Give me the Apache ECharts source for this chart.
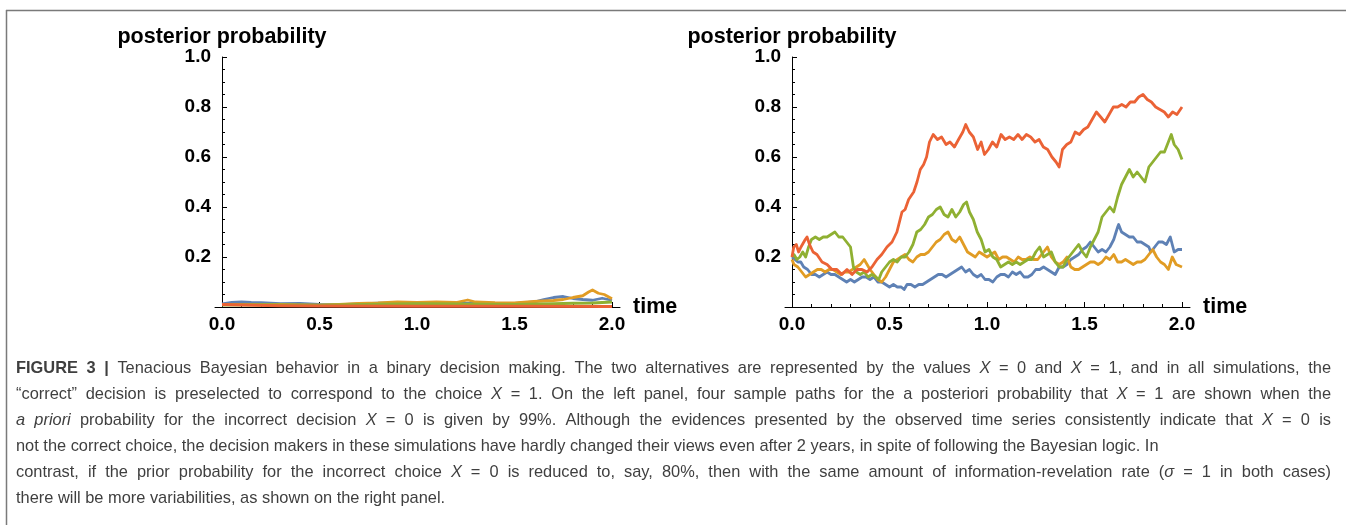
<!DOCTYPE html>
<html><head><meta charset="utf-8">
<script src="https://cdn.jsdelivr.net/npm/echarts@6/dist/echarts.min.js"></script>
<style>html,body{margin:0;padding:0;background:#fff}#c{width:1346px;height:525px}</style>
</head><body><div id="c"></div>
<script>
// ---------------- data ----------------
const xTickValues = [0, 0.5, 1, 1.5, 2];
const xTickLabels = ['0.0', '0.5', '1.0', '1.5', '2.0'];
const xMinorValues = [0.1,0.2,0.3,0.4,0.6,0.7,0.8,0.9,1.1,1.2,1.3,1.4,1.6,1.7,1.8,1.9];
const yTickLabels = ['', '0.2', '0.4', '0.6', '0.8', '1.0'];
const axisTitleY = 'posterior probability';
const axisTitleX = 'time';
const pathNames = ['path 1', 'path 2', 'path 3', 'path 4'];

// left panel (prior for X=0 is 99%)
const leftBlue = [[0,0.012],[0.05,0.018],[0.1,0.02],[0.15,0.018],[0.2,0.017],[0.3,0.013],[0.4,0.014],[0.5,0.01],[0.6,0.009],[0.7,0.012],[0.8,0.015],[0.9,0.016],[1.0,0.015],[1.1,0.017],[1.2,0.016],[1.3,0.014],[1.4,0.013],[1.5,0.014],[1.6,0.02],[1.65,0.03],[1.7,0.038],[1.75,0.042],[1.8,0.034],[1.85,0.03],[1.9,0.027],[1.95,0.035],[2.0,0.027]];
const leftOrange = [[0,0.01],[0.1,0.01],[0.2,0.009],[0.3,0.01],[0.4,0.008],[0.5,0.007],[0.6,0.01],[0.7,0.014],[0.8,0.016],[0.9,0.02],[1.0,0.018],[1.1,0.02],[1.2,0.018],[1.26,0.028],[1.3,0.02],[1.4,0.017],[1.5,0.016],[1.6,0.022],[1.7,0.026],[1.75,0.03],[1.8,0.038],[1.85,0.045],[1.88,0.06],[1.9,0.068],[1.93,0.055],[1.96,0.05],[2.0,0.033]];
const leftGreen = [[0,0.008],[0.2,0.009],[0.5,0.007],[0.8,0.011],[1.0,0.013],[1.2,0.012],[1.5,0.01],[1.7,0.013],[1.8,0.015],[1.9,0.016],[2.0,0.02]];
const leftRed = [[0,0.01],[0.1,0.008],[0.3,0.005],[0.5,0.004],[1.0,0.003],[1.5,0.003],[2.0,0.002]];

// right panel (prior for X=0 is 80%)
const rightBlue = [[0,0.2],[0.015,0.19],[0.03,0.18],[0.045,0.18],[0.06,0.16],[0.08,0.15],[0.1,0.13],[0.12,0.13],[0.14,0.12],[0.16,0.13],[0.18,0.14],[0.2,0.13],[0.22,0.13],[0.24,0.12],[0.26,0.11],[0.28,0.1],[0.3,0.11],[0.32,0.1],[0.34,0.11],[0.36,0.12],[0.38,0.12],[0.4,0.11],[0.42,0.12],[0.44,0.1],[0.46,0.1],[0.48,0.09],[0.5,0.08],[0.52,0.09],[0.54,0.08],[0.56,0.08],[0.575,0.07],[0.59,0.09],[0.61,0.09],[0.63,0.08],[0.65,0.09],[0.67,0.09],[0.69,0.1],[0.71,0.11],[0.73,0.12],[0.75,0.13],[0.77,0.13],[0.79,0.12],[0.81,0.13],[0.83,0.14],[0.85,0.15],[0.87,0.16],[0.89,0.14],[0.91,0.15],[0.93,0.13],[0.95,0.12],[0.97,0.13],[0.99,0.11],[1.01,0.11],[1.03,0.1],[1.05,0.12],[1.07,0.13],[1.09,0.13],[1.11,0.12],[1.13,0.14],[1.15,0.13],[1.17,0.14],[1.19,0.12],[1.21,0.12],[1.23,0.13],[1.25,0.15],[1.27,0.15],[1.29,0.16],[1.31,0.15],[1.33,0.14],[1.35,0.13],[1.37,0.16],[1.39,0.16],[1.41,0.17],[1.43,0.19],[1.45,0.2],[1.47,0.21],[1.49,0.23],[1.51,0.24],[1.53,0.26],[1.55,0.24],[1.57,0.22],[1.59,0.23],[1.61,0.22],[1.63,0.24],[1.65,0.27],[1.67,0.32],[1.675,0.33],[1.69,0.3],[1.71,0.29],[1.73,0.28],[1.75,0.28],[1.77,0.26],[1.79,0.26],[1.81,0.25],[1.83,0.24],[1.84,0.22],[1.86,0.24],[1.88,0.26],[1.9,0.26],[1.92,0.25],[1.94,0.28],[1.96,0.22],[1.98,0.23],[2.0,0.23]];
const rightOrange = [[0,0.19],[0.01,0.17],[0.03,0.16],[0.05,0.14],[0.07,0.12],[0.09,0.13],[0.11,0.14],[0.13,0.15],[0.15,0.15],[0.17,0.14],[0.19,0.15],[0.21,0.15],[0.23,0.14],[0.25,0.13],[0.27,0.14],[0.29,0.14],[0.31,0.15],[0.33,0.16],[0.35,0.17],[0.37,0.19],[0.385,0.17],[0.4,0.15],[0.42,0.13],[0.44,0.11],[0.46,0.1],[0.48,0.12],[0.5,0.15],[0.52,0.18],[0.54,0.19],[0.56,0.2],[0.58,0.21],[0.6,0.19],[0.62,0.18],[0.64,0.2],[0.66,0.21],[0.68,0.21],[0.7,0.22],[0.72,0.24],[0.74,0.26],[0.76,0.27],[0.78,0.29],[0.8,0.3],[0.82,0.27],[0.84,0.26],[0.86,0.28],[0.88,0.25],[0.9,0.22],[0.92,0.21],[0.94,0.2],[0.96,0.22],[0.98,0.21],[1.0,0.2],[1.02,0.21],[1.04,0.22],[1.06,0.19],[1.08,0.2],[1.1,0.2],[1.12,0.19],[1.14,0.18],[1.16,0.2],[1.18,0.19],[1.2,0.19],[1.22,0.2],[1.24,0.19],[1.26,0.19],[1.28,0.21],[1.3,0.23],[1.31,0.24],[1.33,0.2],[1.35,0.18],[1.37,0.17],[1.39,0.18],[1.41,0.2],[1.43,0.16],[1.45,0.15],[1.47,0.15],[1.49,0.16],[1.51,0.17],[1.53,0.18],[1.55,0.18],[1.57,0.17],[1.59,0.18],[1.61,0.2],[1.63,0.19],[1.65,0.21],[1.67,0.18],[1.69,0.18],[1.71,0.19],[1.73,0.18],[1.75,0.17],[1.77,0.18],[1.79,0.18],[1.81,0.19],[1.83,0.21],[1.85,0.23],[1.87,0.2],[1.89,0.18],[1.91,0.17],[1.93,0.15],[1.95,0.2],[1.97,0.17],[2.0,0.16]];
const rightGreen = [[0,0.2],[0.01,0.21],[0.025,0.19],[0.04,0.2],[0.055,0.22],[0.07,0.2],[0.085,0.24],[0.1,0.27],[0.12,0.28],[0.14,0.27],[0.16,0.28],[0.18,0.28],[0.2,0.29],[0.22,0.3],[0.24,0.28],[0.26,0.28],[0.28,0.26],[0.3,0.24],[0.315,0.16],[0.33,0.14],[0.35,0.13],[0.37,0.14],[0.39,0.12],[0.41,0.13],[0.43,0.12],[0.445,0.11],[0.46,0.14],[0.48,0.16],[0.5,0.18],[0.52,0.19],[0.54,0.18],[0.56,0.2],[0.58,0.2],[0.6,0.22],[0.62,0.25],[0.64,0.3],[0.66,0.31],[0.68,0.33],[0.7,0.36],[0.72,0.37],[0.74,0.39],[0.76,0.4],[0.78,0.37],[0.8,0.36],[0.82,0.39],[0.84,0.36],[0.86,0.38],[0.88,0.41],[0.895,0.42],[0.91,0.38],[0.93,0.35],[0.95,0.3],[0.97,0.27],[0.99,0.22],[1.01,0.23],[1.03,0.2],[1.05,0.19],[1.07,0.16],[1.09,0.17],[1.11,0.18],[1.13,0.17],[1.15,0.18],[1.17,0.17],[1.19,0.18],[1.21,0.19],[1.23,0.19],[1.25,0.22],[1.27,0.24],[1.29,0.2],[1.31,0.21],[1.33,0.22],[1.35,0.18],[1.37,0.16],[1.39,0.16],[1.41,0.19],[1.43,0.21],[1.45,0.23],[1.47,0.25],[1.49,0.22],[1.51,0.2],[1.53,0.24],[1.55,0.27],[1.57,0.3],[1.59,0.36],[1.61,0.38],[1.63,0.4],[1.65,0.38],[1.67,0.44],[1.69,0.49],[1.71,0.52],[1.73,0.55],[1.75,0.52],[1.77,0.54],[1.79,0.52],[1.81,0.5],[1.83,0.56],[1.85,0.58],[1.87,0.6],[1.89,0.62],[1.91,0.62],[1.93,0.66],[1.945,0.69],[1.96,0.65],[1.98,0.63],[2.0,0.59]];
const rightRed = [[0,0.2],[0.009,0.24],[0.022,0.25],[0.034,0.22],[0.046,0.24],[0.068,0.27],[0.077,0.28],[0.09,0.25],[0.108,0.22],[0.128,0.21],[0.154,0.18],[0.18,0.17],[0.205,0.15],[0.23,0.15],[0.256,0.13],[0.282,0.15],[0.308,0.13],[0.333,0.15],[0.359,0.15],[0.385,0.14],[0.41,0.16],[0.436,0.19],[0.46,0.21],[0.487,0.24],[0.513,0.26],[0.538,0.3],[0.564,0.38],[0.58,0.39],[0.598,0.43],[0.624,0.46],[0.641,0.5],[0.658,0.55],[0.675,0.57],[0.69,0.6],[0.705,0.66],[0.724,0.69],[0.746,0.67],[0.767,0.68],[0.79,0.65],[0.81,0.66],[0.833,0.64],[0.854,0.67],[0.876,0.7],[0.891,0.73],[0.909,0.7],[0.93,0.68],[0.952,0.63],[0.97,0.66],[0.987,0.61],[1.007,0.63],[1.028,0.66],[1.05,0.64],[1.072,0.69],[1.093,0.67],[1.115,0.68],[1.137,0.67],[1.159,0.69],[1.18,0.67],[1.202,0.69],[1.224,0.68],[1.246,0.66],[1.267,0.67],[1.289,0.64],[1.311,0.63],[1.333,0.6],[1.354,0.58],[1.37,0.56],[1.387,0.63],[1.409,0.65],[1.43,0.66],[1.452,0.7],[1.474,0.69],[1.496,0.71],[1.517,0.72],[1.539,0.75],[1.561,0.78],[1.583,0.76],[1.604,0.74],[1.626,0.77],[1.648,0.8],[1.67,0.8],[1.691,0.81],[1.713,0.8],[1.735,0.82],[1.757,0.82],[1.778,0.84],[1.8,0.85],[1.822,0.83],[1.843,0.82],[1.865,0.8],[1.887,0.79],[1.909,0.78],[1.93,0.76],[1.952,0.78],[1.974,0.77],[2.0,0.8]];

// caption (** = bold, _ = italic)
const captionLines = [
  '**FIGURE 3 |** Tenacious Bayesian behavior in a binary decision making. The two alternatives are represented by the values _X_ = 0 and _X_ = 1, and in all simulations, the',
  '\u201ccorrect\u201d decision is preselected to correspond to the choice _X_ = 1. On the left panel, four sample paths for the a posteriori probability that _X_ = 1 are shown when the',
  '_a priori_ probability for the incorrect decision _X_ = 0 is given by 99%. Although the evidences presented by the observed time series consistently indicate that _X_ = 0 is',
  'not the correct choice, the decision makers in these simulations have hardly changed their views even after 2 years, in spite of following the Bayesian logic. In',
  'contrast, if the prior probability for the incorrect choice _X_ = 0 is reduced to, say, 80%, then with the same amount of information-revelation rate (_\u03c3_ = 1 in both cases)',
  'there will be more variabilities, as shown on the right panel.'
];
const captionJustified = [true, true, true, false, true, false];

// ---------------- styling / layout ----------------
const colors = ['#5E81B5', '#E19C24', '#8FB032', '#EB6235'];
const AX_FONT = 'Liberation Sans';
const X_MIN = -7 / 195, X_MAX = 2 + 8 / 195;
const CAP = { family: 'Liberation Sans', size: 16.4, color: '#3f3f3f', left: 16, right: 1331, top: 368, lh: 26 };

function buildCaption() {
  const ctx = document.createElement('canvas').getContext('2d');
  const fontOf = r => (r.i ? 'italic ' : '') + (r.b ? 'bold ' : '') + CAP.size + 'px "' + CAP.family + '"';
  const out = [];
  let bold = false, ital = false;
  captionLines.forEach((line, li) => {
    const words = [];
    line.split(' ').forEach(w => {
      const runs = []; let buf = '';
      for (let i = 0; i < w.length;) {
        if (w.startsWith('**', i)) { if (buf) runs.push({ t: buf, b: bold, i: ital }); buf = ''; bold = !bold; i += 2; continue; }
        if (w[i] === '_') { if (buf) runs.push({ t: buf, b: bold, i: ital }); buf = ''; ital = !ital; i++; continue; }
        buf += w[i]; i++;
      }
      if (buf) runs.push({ t: buf, b: bold, i: ital });
      runs.forEach(r => { ctx.font = fontOf(r); r.w = ctx.measureText(r.t).width; });
      words.push({ runs, w: runs.reduce((s, r) => s + r.w, 0) });
    });
    ctx.font = CAP.size + 'px "' + CAP.family + '"';
    const sp = ctx.measureText(' ').width;
    const total = words.reduce((s, w) => s + w.w, 0);
    const gap = captionJustified[li] ? (CAP.right - CAP.left - total) / (words.length - 1) : sp;
    let x = CAP.left;
    const y = CAP.top + li * CAP.lh;
    words.forEach(wd => {
      wd.runs.forEach(r => {
        out.push({ type: 'text', x: x, y: y, silent: true, style: {
          text: r.t, fill: CAP.color, fontFamily: CAP.family, fontSize: CAP.size,
          fontWeight: r.b ? 'bold' : 'normal', fontStyle: r.i ? 'italic' : 'normal',
          align: 'left', verticalAlign: 'middle' } });
        x += r.w;
      });
      x += gap;
    });
  });
  return out;
}

const labelStyle = { color: '#000', fontFamily: AX_FONT, fontWeight: 'bold', fontSize: 19 };
const nameStyle = { color: '#000', fontFamily: AX_FONT, fontWeight: 'bold', fontSize: 21.5 };

function mainX(g) {
  return { type: 'value', gridIndex: g, position: 'bottom', min: X_MIN, max: X_MAX,
    name: axisTitleX, nameLocation: 'end', nameGap: 13,
    nameTextStyle: Object.assign({ align: 'left', verticalAlign: 'middle', padding: [7, 0, 0, 0] }, nameStyle),
    axisLine: { show: true, onZero: true, lineStyle: { color: '#000', width: 1 } },
    axisTick: { show: true, inside: true, length: 5, customValues: xTickValues, lineStyle: { color: '#000' } },
    axisLabel: Object.assign({ customValues: xTickValues, margin: 8,
      formatter: v => xTickLabels[xTickValues.indexOf(Math.round(v * 2) / 2)] }, labelStyle),
    splitLine: { show: false } };
}
function minorX(g) {
  return { type: 'value', gridIndex: g, position: 'bottom', min: X_MIN, max: X_MAX,
    axisLine: { show: false, onZero: true },
    axisTick: { show: true, inside: true, length: 3, customValues: xMinorValues, lineStyle: { color: '#000' } },
    axisLabel: { show: false }, splitLine: { show: false } };
}
function mainY(g) {
  return { type: 'value', gridIndex: g, min: 0, max: 1, interval: 0.2,
    name: axisTitleY, nameLocation: 'end', nameGap: 7,
    nameTextStyle: Object.assign({ align: 'center', verticalAlign: 'bottom' }, nameStyle),
    axisLine: { show: true, onZero: true, lineStyle: { color: '#000', width: 1 } },
    axisTick: { show: true, inside: true, length: 5, lineStyle: { color: '#000' } },
    minorTick: { show: true, splitNumber: 4, length: 3, lineStyle: { color: '#000' } },
    axisLabel: Object.assign({ margin: 4, formatter: v => yTickLabels[Math.round(v * 5)] }, labelStyle),
    splitLine: { show: false }, minorSplitLine: { show: false } };
}
function lineSeries(name, data, ci, g) {
  return { type: 'line', name, data, xAxisIndex: g, yAxisIndex: g, showSymbol: false, symbol: 'none',
    lineStyle: { color: colors[ci], width: 2.8, join: 'round' }, itemStyle: { color: colors[ci] },
    animation: false, silent: true };
}

const chart = echarts.init(document.getElementById('c'), null, { renderer: 'canvas' });
chart.setOption({
  animation: false,
  backgroundColor: '#fff',
  grid: [
    { left: 215, top: 57, width: 405, height: 250 },
    { left: 785, top: 57, width: 405, height: 250 }
  ],
  xAxis: [mainX(0), mainX(1), minorX(0), minorX(1)],
  yAxis: [mainY(0), mainY(1)],
  series: [
    lineSeries(pathNames[0], leftBlue, 0, 0),
    lineSeries(pathNames[1], leftOrange, 1, 0),
    lineSeries(pathNames[2], leftGreen, 2, 0),
    lineSeries(pathNames[3], leftRed, 3, 0),
    lineSeries(pathNames[0], rightBlue, 0, 1),
    lineSeries(pathNames[1], rightOrange, 1, 1),
    lineSeries(pathNames[2], rightGreen, 2, 1),
    lineSeries(pathNames[3], rightRed, 3, 1)
  ],
  graphic: [
    { type: 'line', silent: true, shape: { x1: 6, y1: 10.5, x2: 1346, y2: 10.5 }, style: { stroke: '#7a7a7a', lineWidth: 1.5 } },
    { type: 'line', silent: true, shape: { x1: 6.5, y1: 10, x2: 6.5, y2: 525 }, style: { stroke: '#7a7a7a', lineWidth: 1.5 } }
  ].concat(buildCaption())
});
</script>
</body></html>
